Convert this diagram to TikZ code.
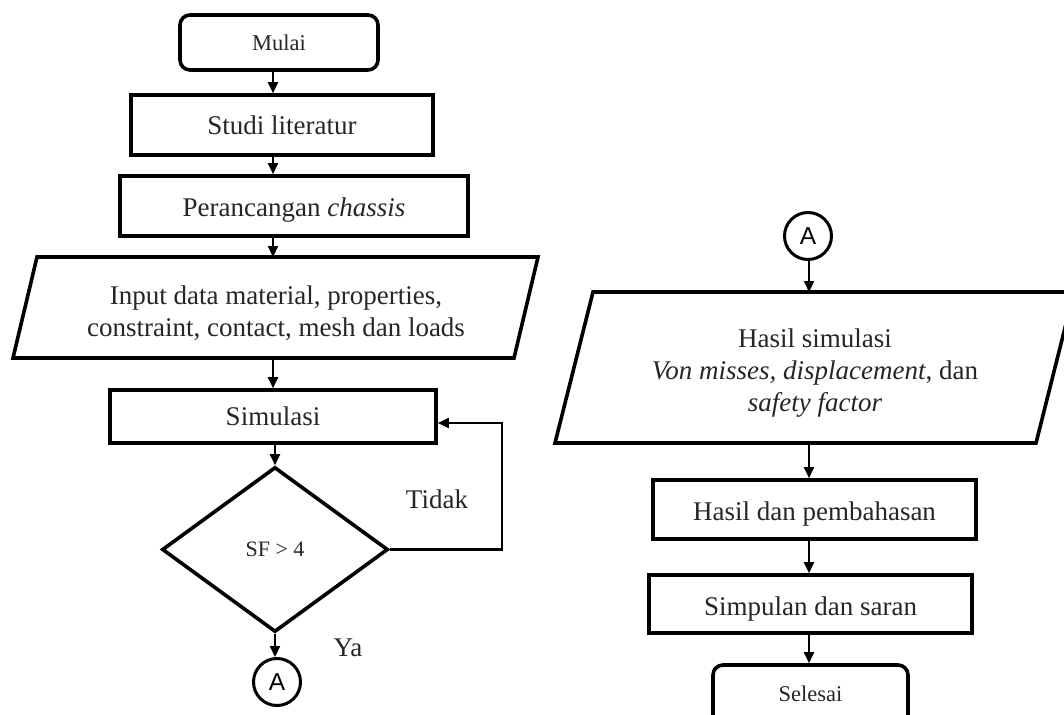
\documentclass[tikz,border=0pt]{standalone}
\usepackage{fontspec}
\setmainfont{Liberation Serif}
\newfontfamily\sansA{Liberation Sans}
\usetikzlibrary{arrows.meta,shapes.geometric,calc}
\newcommand\txtdn[2][5pt]{\raisebox{-#1}[\height][\depth]{#2}}
\begin{document}
\begin{tikzpicture}[x=1pt,y=-1pt,
  proc/.style={draw, line width=3.6pt, inner sep=0pt, text=black!85,
    font=\fontsize{27}{32}\selectfont, align=center},
  term/.style={proc, rounded corners=10pt, font=\fontsize{22.5}{26}\selectfont},
  iotext/.style={inner sep=0pt, text=black!85, font=\fontsize{27}{32}\selectfont, align=center},
  iobox/.style={draw, line width=3.6pt, line join=miter},
  dia/.style={proc, diamond, font=\fontsize{22}{26}\selectfont},
  conn/.style={draw, circle, line width=3pt, inner sep=0pt, minimum size=47pt,
    font=\sansA\fontsize{24.5}{28}\selectfont},
  lbl/.style={inner sep=0pt, text=black!85, font=\fontsize{27}{32}\selectfont},
  arr/.style={line width=2.2pt, -{Triangle[length=11pt,width=10pt]}}]
\useasboundingbox (0,0) rectangle (1064,714);
\clip (0,0) rectangle (1064,714);
\fill[white] (0,0) rectangle (1064,714);

% reference columns for the vertical connectors
\coordinate (xL) at (273,0);
\coordinate (xR) at (809,0);

% ---------- left column ----------
\node[term, minimum width=198pt, minimum height=55pt] (mulai) at (279,42.5) {Mulai};
\node[proc, minimum width=302pt, minimum height=60pt] (studi) at (282,125) {Studi literatur};
\node[proc, minimum width=348pt, minimum height=60pt] (peran) at (294,206) {\txtdn[4pt]{Perancangan \textit{chassis}}};
\node[iotext] (input) at (276,313)
  {Input data material, properties,\\constraint, contact, mesh dan loads};
\draw[iobox] (37,257) -- (538,257) -- (514,358) -- (13,358) -- cycle;
\coordinate (inTop) at (273,257);
\coordinate (inBot) at (273,358);
\node[proc, minimum width=326pt, minimum height=53pt] (sim) at (273,416.5) {Simulasi};
\node[dia, minimum width=226pt, minimum height=165pt] (dec) at (275,549.5) {SF > 4};
\node[conn] (ca1) at (277,682) {A};
\node[lbl] (tidak) at (437,499) {Tidak};
\node[lbl] (ya) at (348,648) {Ya};

\draw[arr] (mulai.south -| xL) -- (studi.north -| xL);
\draw[arr] (studi.south -| xL) -- (peran.north -| xL);
\draw[arr] (peran.south -| xL) -- (inTop);
\draw[arr] (inBot) -- (sim.north -| xL);
\draw[arr] (sim.south -| dec.north) -- (dec.north);
\draw[arr] (dec.south) -- (dec.south |- ca1.north);
\coordinate (fb) at (502,549.5);
\draw[arr] (dec.east) -- (fb) |- ($(sim.east)+(0,6.5)$);

% ---------- right column ----------
\node[conn] (ca2) at (808,236) {A};
\node[iotext] (hsim) at (815,373)
  {Hasil simulasi\\\textit{Von misses, displacement}, dan\\\textit{safety factor}};
\draw[iobox] (593,292) -- (1074,292) -- (1036,443) -- (555,443) -- cycle;
\coordinate (hsTop) at (809,292);
\coordinate (hsBot) at (809,443);
\node[proc, minimum width=323pt, minimum height=59pt] (hasil) at (814.5,509.5) {\txtdn{Hasil dan pembahasan}};
\node[proc, minimum width=323pt, minimum height=58pt] (simp) at (810.5,604) {\txtdn{Simpulan dan saran}};
\node[term, minimum width=195pt, minimum height=60pt] (selesai) at (810.5,695) {\txtdn[-1pt]{Selesai}};

\draw[arr] (ca2.south -| xR) -- (hsTop);
\draw[arr] (hsBot) -- (hasil.north -| xR);
\draw[arr] (hasil.south -| xR) -- (simp.north -| xR);
\draw[arr] (simp.south -| xR) -- (selesai.north -| xR);
\end{tikzpicture}
\end{document}
